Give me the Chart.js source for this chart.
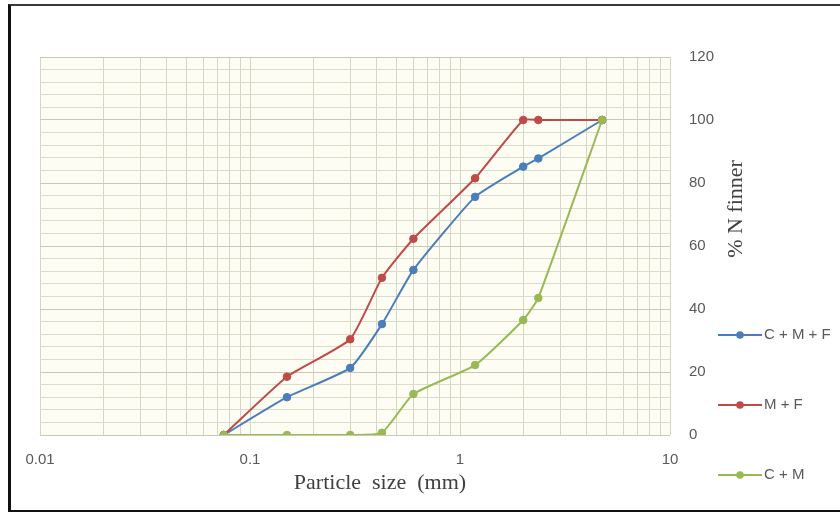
<!DOCTYPE html>
<html>
<head>
<meta charset="utf-8">
<script src="https://cdn.jsdelivr.net/npm/chart.js@4/dist/chart.umd.min.js"></script>
<style>
  html, body { margin: 0; padding: 0; background: #ffffff; }
  #wrap { position: relative; width: 840px; height: 513px; overflow: hidden; }
  #c { position: absolute; left: 0; top: 0; }
  #frame { position: absolute; left: 8px; top: 4px; right: -10px; height: 504px;
           border-top: 2px solid #3a3a3a; border-left: 3px solid #111; border-bottom: 2px solid #111; pointer-events: none; }
</style>
</head>
<body>
<div id="wrap">
  <canvas id="c" width="840" height="513"></canvas>
  <div id="frame"></div>
</div>
<script>
// ---- data ----
const sieveSizes = [0.075, 0.15, 0.3, 0.425, 0.6, 1.18, 2.0, 2.36, 4.75];   // mm
const seriesNames = ['C + M + F', 'M + F', 'C + M'];
const cmfFiner = [0, 12, 21.3, 35.2, 52.4, 75.6, 85.2, 87.8, 100];
const mfFiner  = [0, 18.5, 30.4, 49.9, 62.3, 81.5, 100, 100, 100];
const cmFiner  = [0, 0, 0, 0.7, 13, 22.2, 36.5, 43.5, 100];
const xDecades = [0.01, 0.1, 1, 10];
const xTickLabels = ['0.01', '0.1', '1', '10'];
const yTickLabels = ['0', '20', '40', '60', '80', '100', '120'];
const xTitle = 'Particle  size  (mm)';
const yTitle = '% N finner';

const colors = ['#4a7ebb', '#be4b48', '#98b954'];

function pts(vals) { return sieveSizes.map((x, i) => ({ x: x, y: vals[i] })); }

const datasets = [cmfFiner, mfFiner, cmFiner].map((vals, i) => ({
  label: seriesNames[i],
  data: pts(vals),
  showLine: true,
  borderColor: colors[i],
  backgroundColor: colors[i],
  pointBackgroundColor: colors[i],
  pointBorderColor: colors[i],
  borderWidth: 2,
  pointRadius: 3.8,
  pointBorderWidth: 1,
  tension: 0.15,
  order: 3 - i
}));

// minor log grid positions: 1..9 per decade
const xGrid = [];
for (let d = 0; d < xDecades.length - 1; d++) {
  for (let m = 1; m <= 9; m++) xGrid.push(+(xDecades[d] * m).toPrecision(3));
}
xGrid.push(xDecades[xDecades.length - 1]);

const bgPlugin = {
  id: 'plotBg',
  beforeDraw(chart) {
    const { ctx, chartArea: a } = chart;
    ctx.save();
    ctx.fillStyle = '#fdfdf4';
    ctx.fillRect(a.left, a.top, a.right - a.left, a.bottom - a.top);
    ctx.restore();
  }
};

const decorPlugin = {
  id: 'decor',
  afterDraw(chart) {
    const ctx = chart.ctx;
    ctx.save();
    // axis titles
    ctx.fillStyle = '#404040';
    ctx.font = '22px "Liberation Serif", "Times New Roman", serif';
    ctx.textAlign = 'center';
    ctx.textBaseline = 'middle';
    ctx.fillText(xTitle, 380, 483);
    ctx.save();
    ctx.translate(736, 209);
    ctx.rotate(-Math.PI / 2);
    ctx.fillText(yTitle, 0, 0);
    ctx.restore();
    // legend
    const ys = [335, 405, 475];
    chart.data.datasets.forEach((ds, i) => {
      const y = ys[i];
      ctx.strokeStyle = ds.borderColor;
      ctx.lineWidth = 2;
      ctx.beginPath();
      ctx.moveTo(718, y);
      ctx.lineTo(762, y);
      ctx.stroke();
      ctx.fillStyle = ds.borderColor;
      ctx.beginPath();
      ctx.arc(740, y, 3.8, 0, Math.PI * 2);
      ctx.fill();
      ctx.fillStyle = '#595959';
      ctx.font = '15px "Liberation Sans", Arial, sans-serif';
      ctx.textAlign = 'left';
      ctx.textBaseline = 'middle';
      ctx.fillText(ds.label, 764, y);
    });
    ctx.restore();
  }
};

new Chart(document.getElementById('c'), {
  type: 'scatter',
  data: { datasets: datasets },
  options: {
    responsive: false,
    animation: false,
    layout: { padding: { left: 40, top: 57, right: 40, bottom: 18 } },
    plugins: { legend: { display: false }, tooltip: { enabled: false } },
    scales: {
      x: {
        type: 'logarithmic',
        min: 0.01,
        max: 10,
        afterBuildTicks(scale) { scale.ticks = xGrid.map(v => ({ value: v })); },
        afterFit(scale) { scale.height = 60; },
        grid: { color: '#d6d6c4', lineWidth: 1, drawTicks: false },
        border: { display: false },
        ticks: {
          autoSkip: false,
          maxRotation: 0,
          padding: 16,
          color: '#595959',
          font: { size: 15, family: '"Liberation Sans", Arial, sans-serif' },
          callback(value) {
            const k = xDecades.findIndex(d => Math.abs(d - value) < 1e-9);
            return k >= 0 ? xTickLabels[k] : '';
          }
        }
      },
      y: {
        position: 'right',
        min: 0,
        max: 120,
        afterFit(scale) { scale.width = 130; },
        grid: {
          color: c => (c.tick && c.tick.value % 20 === 0) ? '#c9c9b5' : '#dcdccb',
          lineWidth: 1,
          drawTicks: false
        },
        border: { display: false },
        ticks: {
          stepSize: 4,
          autoSkip: false,
          padding: 19,
          color: '#595959',
          font: { size: 15, family: '"Liberation Sans", Arial, sans-serif' },
          callback(value) {
            const idx = yTickLabels.indexOf(String(value));
            return idx >= 0 ? yTickLabels[idx] : '';
          }
        }
      }
    }
  },
  plugins: [bgPlugin, decorPlugin]
});
</script>
</body>
</html>
